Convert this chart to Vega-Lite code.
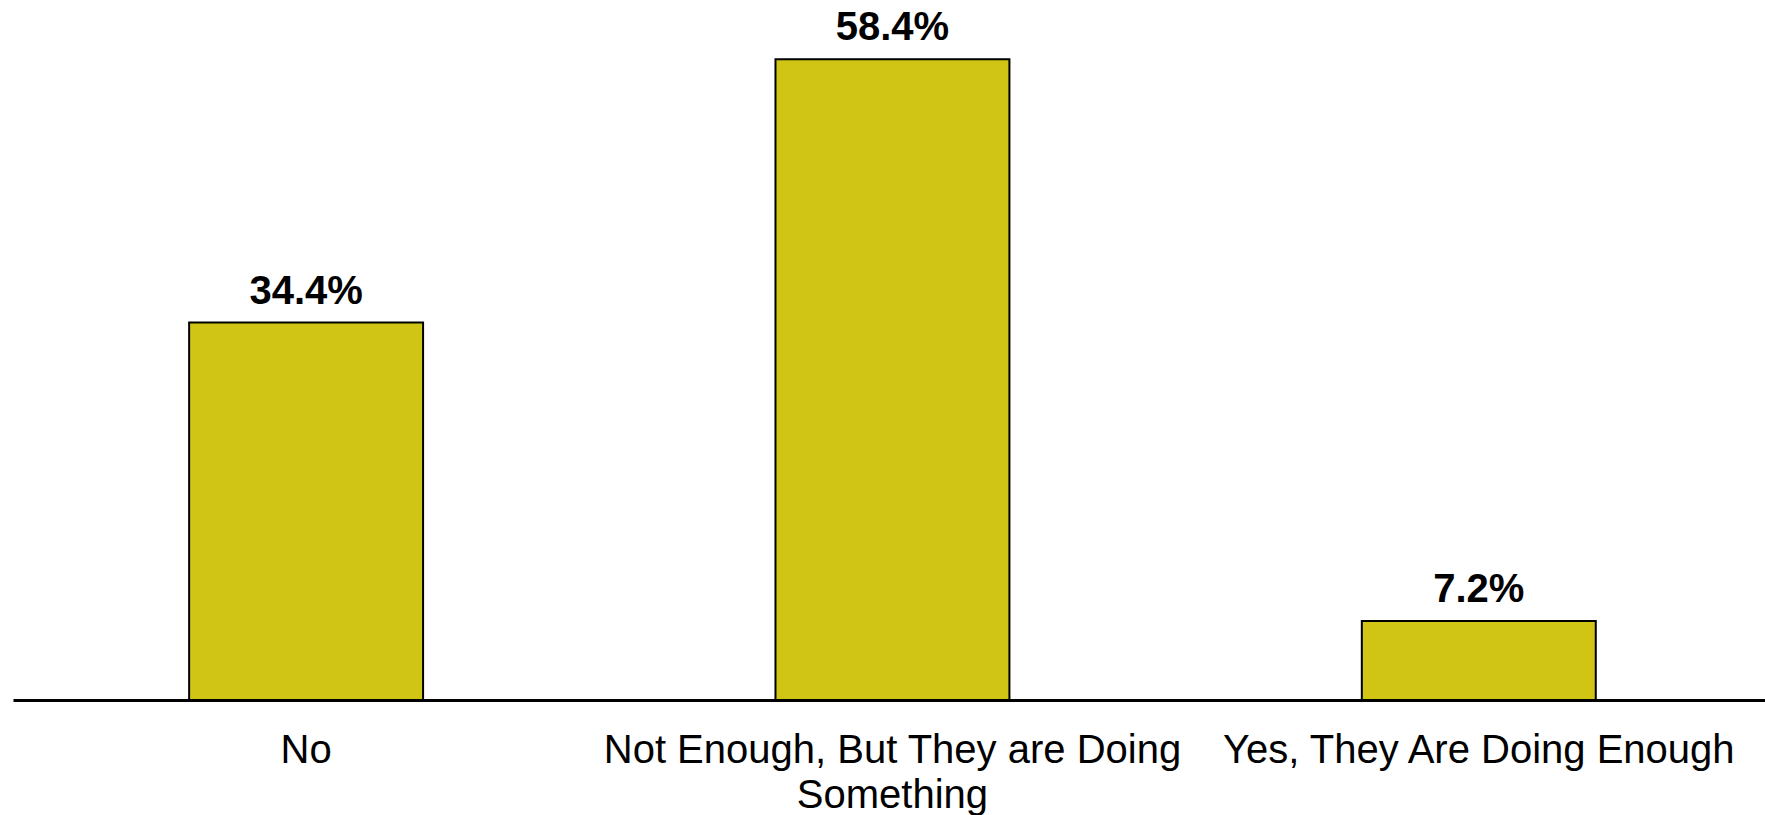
{
  "$schema": "https://vega.github.io/schema/vega-lite/v6.json",
  "width": 1752,
  "height": 700,
  "autosize": {"type": "none"},
  "padding": {"left": 13, "top": 0, "right": 0, "bottom": 115},
  "background": "white",
  "config": {
    "view": {"stroke": null},
    "font": "Liberation Sans"
  },
  "data": {
    "values": [
      {"answer": "No", "share": 0.344},
      {"answer": "Not Enough, But They are Doing Something", "share": 0.584},
      {"answer": "Yes, They Are Doing Enough", "share": 0.072}
    ]
  },
  "encoding": {
    "x": {
      "field": "answer",
      "type": "nominal",
      "sort": null,
      "scale": {"paddingInner": 0.601, "paddingOuter": 0.2945, "align": 0.51},
      "axis": {
        "title": null,
        "ticks": false,
        "grid": false,
        "domainColor": "black",
        "domainWidth": 3,
        "labelAngle": 0,
        "labelFont": "Liberation Sans",
        "labelFontSize": 40,
        "labelColor": "black",
        "labelBaseline": "alphabetic",
        "labelPadding": 62,
        "labelLineHeight": 45,
        "labelLimit": 0,
        "labelExpr": "datum.value == 'Not Enough, But They are Doing Something' ? ['Not Enough, But They are Doing', 'Something'] : datum.value"
      }
    },
    "y": {
      "field": "share",
      "type": "quantitative",
      "scale": {"domain": [0, 0.638], "nice": false, "zero": true},
      "axis": null
    }
  },
  "layer": [
    {
      "mark": {"type": "bar", "fill": "#D0C415", "stroke": "black", "strokeWidth": 2}
    },
    {
      "mark": {
        "type": "text",
        "baseline": "alphabetic",
        "dy": -19,
        "font": "Liberation Sans",
        "fontSize": 40,
        "fontWeight": "bold",
        "color": "black"
      },
      "encoding": {
        "text": {"field": "share", "type": "quantitative", "format": ".1%"}
      }
    }
  ]
}
